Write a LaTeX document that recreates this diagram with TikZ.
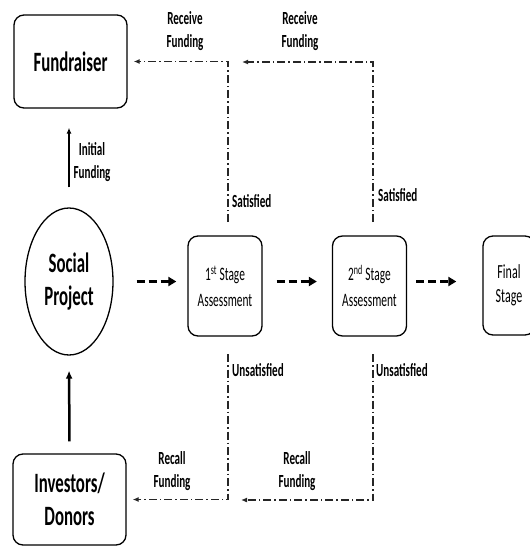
\documentclass[tikz,border=0pt]{standalone}
\usepackage{fontspec}
\setmainfont{Carlito}[FakeStretch=0.6]
\usetikzlibrary{arrows.meta,shapes.geometric}
\tikzset{
  box/.style = {draw, rounded corners=10pt, line width=1.3pt,
    align=center, inner sep=0pt},
  bigtext/.style = {font=\fontsize{28}{33}\selectfont\bfseries},
  stagetext/.style = {font=\fontsize{19}{26}\selectfont},
  tag/.style = {font=\fontsize{18.5}{23}\selectfont\bfseries,
    align=center, inner sep=0pt},
  flow/.style = {line width=3pt, dash pattern=on 8pt off 4pt,
    -{Triangle[length=8pt,width=9pt]}},
  money/.style = {line width=1.6pt, draw=black!85,
    dash pattern=on 8pt off 3pt on 1.5pt off 3pt,
    -{Latex[length=6pt,width=5pt]}},
}

\begin{document}
\begin{tikzpicture}[x=1pt,y=-1pt]
  \useasboundingbox (0,0) rectangle (530,547);
  % main blocks
  \node[box, bigtext, minimum width=113pt, minimum height=93pt]
    (fund) at (70.5,61.5) {Fundraiser};
  \node[draw, ellipse, line width=1.3pt, bigtext, align=center,
    minimum width=88pt, minimum height=147pt, inner sep=0pt]
    (social) at (69,281.5) {Social\\Project};
  \node[box, bigtext, minimum width=113pt, minimum height=91pt]
    (inv) at (69.5,499.5) {Investors/\\Donors};
  % stages
  \node[box, stagetext, minimum width=74pt, minimum height=100pt]
    (s1) at (225,286) {1\textsuperscript{st} Stage\\Assessment};
  \node[box, stagetext, minimum width=74pt, minimum height=100pt]
    (s2) at (369.5,286) {2\textsuperscript{nd} Stage\\Assessment};
  \node[box, font=\fontsize{20}{24}\selectfont, minimum width=52pt,
    minimum height=99pt] (final) at (509,285.5) {Final\\Stage};
  % free ends of the funding lines
  \coordinate (s1up) at (228,222);
  \coordinate (s1dn) at (228,354);
  \coordinate (s2up) at (373,222);
  \coordinate (s2dn) at (373,354);
  \coordinate (rf2) at (242,62);
  \coordinate (rc2) at (241,500);
  % funding
  \draw[line width=1.5pt, -{Latex[length=6pt,width=5pt]},
    shorten <=20pt, shorten >=19pt]
    (social.north) -- (social.north |- fund.south);
  \draw[line width=2.5pt, -{Latex[length=8pt,width=7pt]},
    shorten <=12pt, shorten >=15pt] (inv.north) -- (social.south);
  \draw[money, shorten >=6pt] (s1up) |- (fund);
  \draw[money] (s2up) |- (rf2);
  \draw[money, shorten >=6pt] (s1dn) |- (inv);
  \draw[money] (s2dn) |- (rc2);
  % stage flow
  \draw[flow, shorten <=23pt, shorten >=11pt]
    (social.east) -- (social.east -| s1.west);
  \draw[flow, shorten <=14pt, shorten >=15pt]
    (s1.east |- social) -- (s2.west |- social);
  \draw[flow, shorten <=9pt, shorten >=26pt]
    (s2.east |- social) -- (final.west |- social);
  % labels
  \node[tag] (rf1lab) at (185,31) {Receive\\Funding};
  \node[tag] (rf2lab) at (300,31) {Receive\\Funding};
  \node[tag] (initlab) at (92,162) {Initial\\Funding};
  \node[tag, anchor=west] (sat1) at (232,201) {Satisfied};
  \node[tag, anchor=west] (sat2) at (378,195) {Satisfied};
  \node[tag, anchor=west] (unsat1) at (232,370) {Unsatisfied};
  \node[tag, anchor=west] (unsat2) at (376,370) {Unsatisfied};
  \node[tag] (rc1lab) at (172,471) {Recall\\Funding};
  \node[tag] (rc2lab) at (297,471) {Recall\\Funding};
\end{tikzpicture}
\end{document}
